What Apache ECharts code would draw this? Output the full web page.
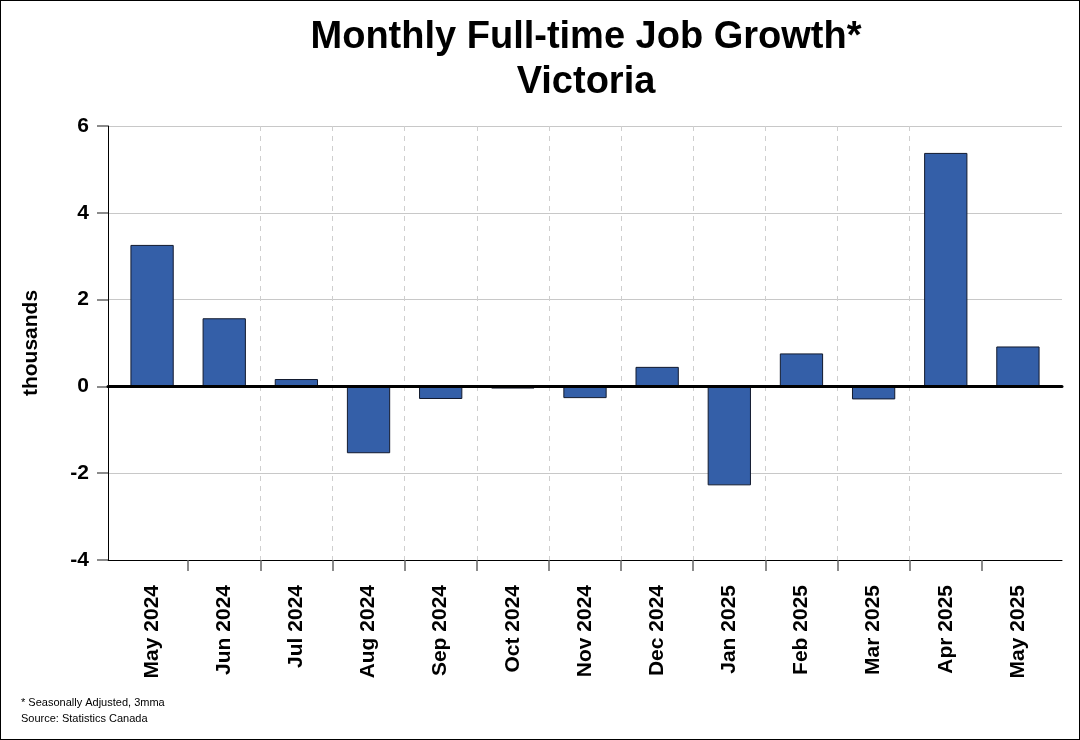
<!DOCTYPE html>
<html>
<head>
<meta charset="utf-8">
<script src="https://cdn.jsdelivr.net/npm/echarts@6/dist/echarts.min.js"></script>
<style>
  html, body { margin: 0; padding: 0; background: #fff; }
  #wrap { position: relative; width: 1080px; height: 740px; }
  #chart { width: 1080px; height: 740px; }
  #frame { position: absolute; left: 0; top: 0; width: 1080px; height: 740px;
           box-sizing: border-box; border: 1px solid #000; pointer-events: none; }
</style>
</head>
<body>
<div id="wrap">
  <div id="chart"></div>
  <div id="frame"></div>
</div>
<script>
// data (thousands, seasonally adjusted 3mma)
const months = ['May 2024', 'Jun 2024', 'Jul 2024', 'Aug 2024', 'Sep 2024', 'Oct 2024', 'Nov 2024',
  'Dec 2024', 'Jan 2025', 'Feb 2025', 'Mar 2025', 'Apr 2025', 'May 2025'];
const growth = [3.26, 1.57, 0.17, -1.54, -0.29, -0.05, -0.27, 0.45, -2.28, 0.76, -0.30, 5.38, 0.92];
const yMin = -4, yMax = 6, yStep = 2;
// category boundaries between months (ticks / dashed lines)
const boundaries = months.slice(1).map((m, i) => i + 1);

const font = 'Liberation Sans, Arial, sans-serif';
const chart = echarts.init(document.getElementById('chart'));

// outer plot box 108..1062, bars sit in an inner box padded 8px each side
const outer = { left: 108, right: 18, top: 126, bottom: 180 };
const inner = { left: 116, right: 26, top: 126, bottom: 180 };

const option = {
  animation: false,
  title: [
    {
      text: 'Monthly Full-time Job Growth*\nVictoria',
      left: 586, top: 15, padding: 0,
      textAlign: 'center',
      textStyle: { fontFamily: font, fontSize: 38, fontWeight: 'bold', color: '#000', lineHeight: 45 }
    },
    {
      text: '* Seasonally Adjusted, 3mma\nSource: Statistics Canada',
      left: 21, top: 695, padding: 0,
      textStyle: { fontFamily: font, fontSize: 11, fontWeight: 'normal', color: '#000', lineHeight: 16 }
    }
  ],
  grid: [
    Object.assign({}, outer),   // 0: y axis, gridlines, bottom line
    Object.assign({}, inner),   // 1: bars, labels, ticks
    Object.assign({}, outer)    // 2: zero line
  ],
  xAxis: [
    {
      gridIndex: 0, type: 'value', min: 0, max: 1, position: 'bottom',
      axisLine: { show: true, onZero: false, lineStyle: { color: '#000', width: 1 } },
      axisTick: { show: false }, axisLabel: { show: false }, splitLine: { show: false }
    },
    {
      gridIndex: 1, type: 'category', data: months, position: 'bottom',
      axisLine: { show: false, onZero: false },
      axisTick: { show: false },
      splitLine: { show: false },
      axisLabel: {
        interval: 0, rotate: 90, margin: 25,
        fontFamily: font, fontSize: 21, fontWeight: 'bold', color: '#000'
      }
    },
    {
      gridIndex: 1, type: 'value', min: 0, max: months.length, interval: 1, position: 'bottom',
      axisLine: { show: false, onZero: false },
      axisTick: { show: true, length: 11, customValues: boundaries, lineStyle: { color: '#666', width: 1.5 } },
      axisLabel: { show: false },
      splitLine: {
        show: true, showMinLine: false, showMaxLine: false,
        lineStyle: { color: '#cfcfcf', type: [5, 5], width: 1 }
      }
    },
    {
      gridIndex: 2, type: 'value', min: 0, max: 1, z: 5,
      axisLine: { show: true, onZero: true, lineStyle: { color: '#000', width: 3 } },
      axisTick: { show: false }, axisLabel: { show: false }, splitLine: { show: false }
    }
  ],
  yAxis: [
    {
      gridIndex: 0, type: 'value', min: yMin, max: yMax, interval: yStep,
      name: 'thousands', nameLocation: 'middle', nameRotate: 90, nameGap: 66,
      nameTextStyle: { fontFamily: font, fontSize: 21, fontWeight: 'bold', color: '#000' },
      axisLine: { show: true, lineStyle: { color: '#000', width: 1 } },
      axisTick: { show: true, length: 11, lineStyle: { color: '#666', width: 1.5 } },
      axisLabel: { margin: 19, fontFamily: font, fontSize: 21, fontWeight: 'bold', color: '#000' },
      splitLine: { show: true, lineStyle: { color: '#c8c8c8', width: 1 } }
    },
    { gridIndex: 1, type: 'value', min: yMin, max: yMax, interval: yStep, show: false },
    { gridIndex: 2, type: 'value', min: yMin, max: yMax, interval: yStep, show: false }
  ],
  series: [
    {
      type: 'bar',
      xAxisIndex: 1, yAxisIndex: 1,
      data: growth,
      barWidth: '60%',
      itemStyle: { color: '#345fa8', borderColor: '#121a2e', borderWidth: 1 }
    }
  ]
};
chart.setOption(option);
</script>
</body>
</html>
